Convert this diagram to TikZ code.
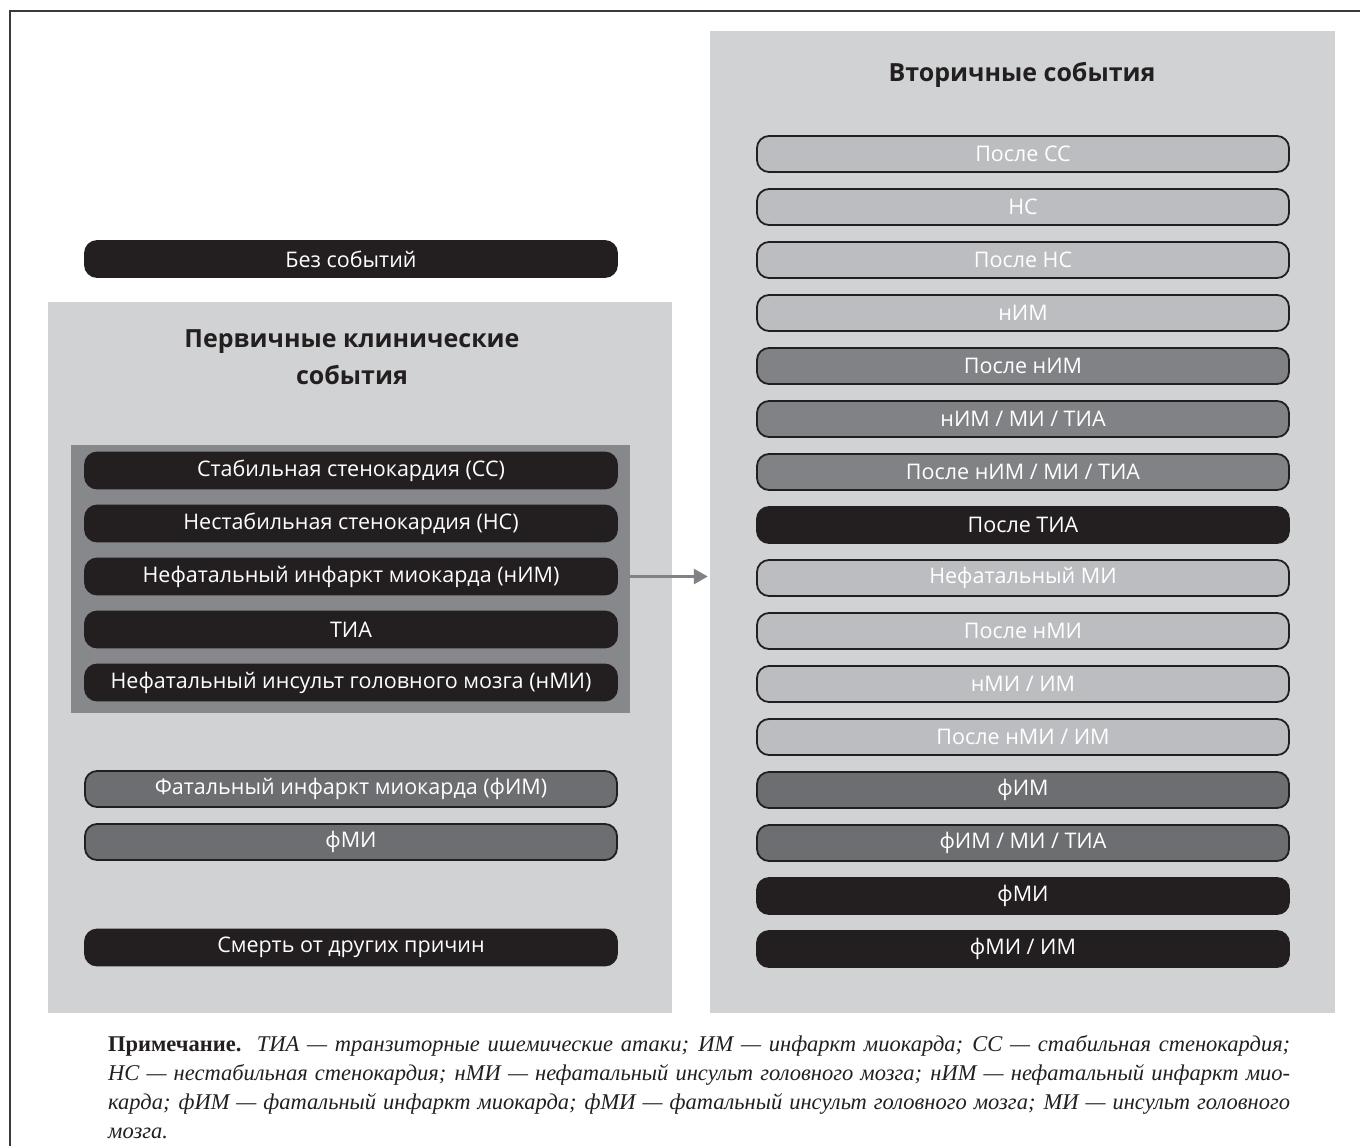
\documentclass[tikz,border=0pt]{standalone}
\usepackage{fontspec}
\setmainfont[WordSpace={0.85,1.2,1.2}]{Liberation Serif}
\newfontfamily\pillfont{Open Sans}
\usetikzlibrary{arrows.meta}
\definecolor{panel}{HTML}{D1D2D4}
\definecolor{inner}{HTML}{87888C}
\definecolor{blk}{HTML}{231F20}
\definecolor{light}{HTML}{BBBDC0}
\definecolor{mid}{HTML}{808285}
\definecolor{dark}{HTML}{6D6E71}
\definecolor{frame}{HTML}{3A3A3A}
\tikzset{
  pill/.style={rounded corners=12pt, minimum width=532pt, minimum height=36pt,
    inner sep=0pt, font=\pillfont\fontsize{21.5}{24}\selectfont, text=white,
    draw=blk, line width=1.8pt},
  blackpill/.style={pill, fill=blk},
  lightpill/.style={pill, fill=light},
  midpill/.style={pill, fill=mid},
  darkpill/.style={pill, fill=dark},
  panelbox/.style={fill=panel, draw=none, inner sep=0pt},
  heading/.style={font=\pillfont\bfseries\fontsize{25}{37}\selectfont, text=blk, align=center},
  conn/.style={draw=mid, line width=3pt, -{Triangle[length=14pt,width=15pt]}}
}
\begin{document}
\begin{tikzpicture}[x=1pt,y=-1pt]
\useasboundingbox (0,0) rectangle (1360,1146);
% outer frame (left and top edges visible)
\draw[frame, line width=2pt] (9.5,1146) -- (9.5,10.5) -- (1360,10.5);
% panels
\node[panelbox, minimum width=624pt, minimum height=711pt] (leftpanel) at (360,657.5) {};
\node[panelbox, minimum width=625pt, minimum height=982pt] (sec) at (1022.5,522) {};
\node[fill=inner, inner sep=0pt, minimum width=559pt, minimum height=268pt] (prim) at (350.5,579) {};
% headings
\node[heading] (sectitle) at (1022,75) {Вторичные события};
\node[heading] (primtitle) at (352,357) {Первичные клинические\\события};
% left column
\node[blackpill] (none) at (351,259) {Без событий};
\node[blackpill] (p1) at (351,470.5) {Стабильная стенокардия (СС)};
\node[blackpill] (p2) at (351,523.5) {Нестабильная стенокардия (НС)};
\node[blackpill] (p3) at (351,576.5) {Нефатальный инфаркт миокарда (нИМ)};
\node[blackpill] (p4) at (351,629.5) {ТИА};
\node[blackpill] (p5) at (351,682.5) {Нефатальный инсульт головного мозга (нМИ)};
\node[darkpill] (f1) at (351,789) {Фатальный инфаркт миокарда (фИМ)};
\node[darkpill] (f2) at (351,842) {фМИ};
\node[blackpill] (death) at (351,947.5) {Смерть от других причин};
% right column
\node[lightpill] (s1) at (1023,154) {После СС};
\node[lightpill] (s2) at (1023,207) {НС};
\node[lightpill] (s3) at (1023,260) {После НС};
\node[lightpill] (s4) at (1023,313) {нИМ};
\node[midpill] (s5) at (1023,366) {После нИМ};
\node[midpill] (s6) at (1023,419) {нИМ / МИ / ТИА};
\node[midpill] (s7) at (1023,472) {После нИМ / МИ / ТИА};
\node[blackpill] (s8) at (1023,525) {После ТИА};
\node[lightpill] (s9) at (1023,578) {Нефатальный МИ};
\node[lightpill] (s10) at (1023,631) {После нМИ};
\node[lightpill] (s11) at (1023,684) {нМИ / ИМ};
\node[lightpill] (s12) at (1023,737) {После нМИ / ИМ};
\node[darkpill] (s13) at (1023,790) {фИМ};
\node[darkpill] (s14) at (1023,843) {фИМ / МИ / ТИА};
\node[blackpill] (s15) at (1023,896) {фМИ};
\node[blackpill] (s16) at (1023,949) {фМИ / ИМ};
% arrow
\draw[conn] (prim.east |- p3) -- ([xshift=-2pt]sec.west |- p3);
% note
\node[anchor=north west, inner sep=0pt, text width=1182pt, align=justify,
      font=\fontsize{22.5}{29.2}\selectfont, text=blk] (note) at (108,1035)
{\hyphenpenalty=10000\emergencystretch=20pt\textbf{Примечание.} \textit{ТИА — транзиторные ишемические атаки; ИМ — инфаркт миокарда; СС — стабильная стенокардия;\linebreak НС — нестабильная стенокардия; нМИ — нефатальный инсульт головного мозга; нИМ — нефатальный инфаркт мио-\linebreak карда; фИМ — фатальный инфаркт миокарда; фМИ — фатальный инсульт головного мозга; МИ — инсульт головного\linebreak мозга.}};
\end{tikzpicture}
\end{document}
